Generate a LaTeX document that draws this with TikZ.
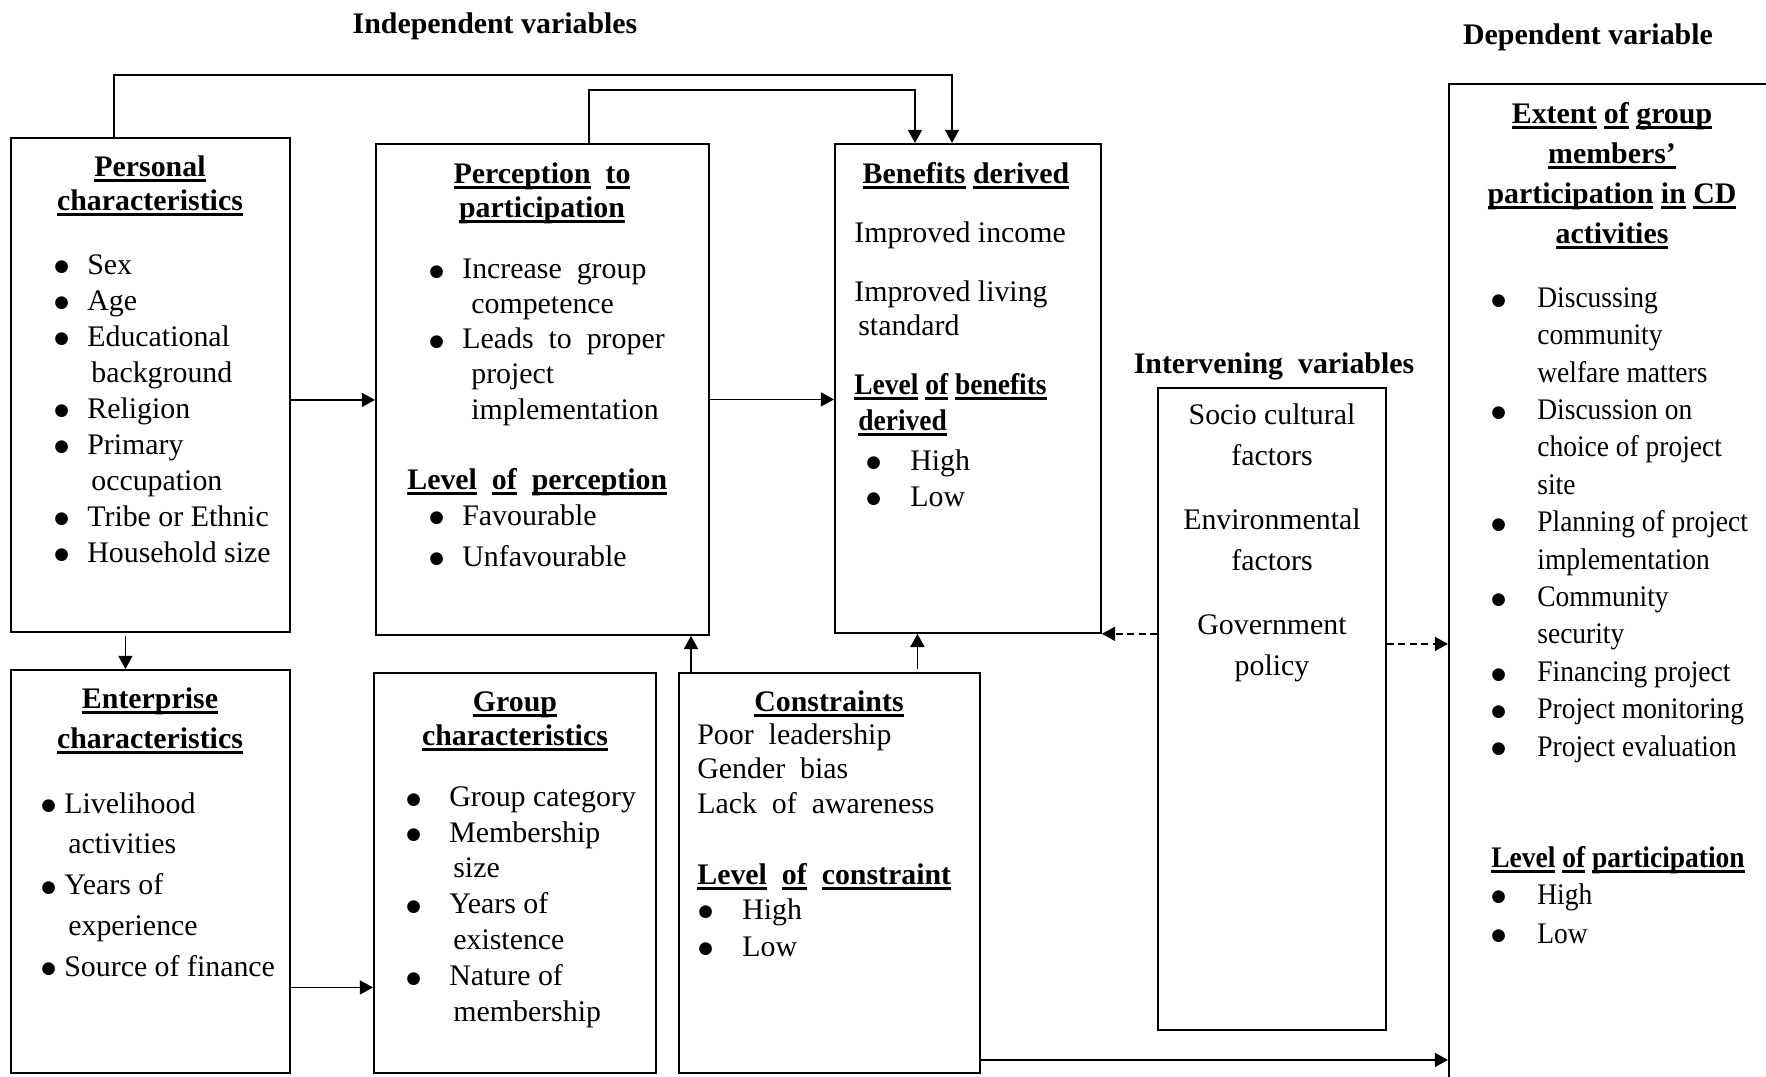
\documentclass[tikz,border=0pt]{standalone}
\usepackage{fontspec}
\setmainfont{Liberation Serif}
\newfontfamily\narrowrm[FakeStretch=0.92]{Liberation Serif}
\newfontfamily\dotfont{DejaVu Sans}
\usetikzlibrary{arrows.meta,calc}

\newlength{\pxu}\setlength{\pxu}{0.02cm}
\newcommand{\ulw}[1]{\setbox0=\hbox{#1}\rlap{\rule[-6\pxu]{\wd0}{3.4\pxu}}\box0{}}
\newcommand{\blt}[2][32]{\makebox[#1\pxu][l]{\hspace*{-1\pxu}\raisebox{2.2\pxu}{\dotfont\fontsize{9.5}{10}\selectfont ●}}#2}
\newcommand{\fsz}[1]{\fontsize{17}{#1\pxu}\selectfont}

\begin{document}
\begin{tikzpicture}[x=0.02cm, y=-0.02cm,
    box/.style={draw, line width=1.1pt, anchor=north west, inner sep=0pt},
    txt/.style={anchor=base west, align=left, inner sep=0pt, font=\fsz{36}},
    head/.style={anchor=base, align=center, inner sep=0pt, font=\fsz{34}\bfseries},
    arr/.style={line width=0.9pt, -{Triangle[length=7.5pt,width=8pt]}}]
    \useasboundingbox (0,0) rectangle (1766,1076);
    \clip (0,0) rectangle (1766,1076);

    % Cajas
    \node[box, minimum width=5.58cm, minimum height=9.88cm] (pers) at (10,137) {};
    \node[box, minimum width=6.66cm, minimum height=9.82cm] (perc) at (375,143) {};
    \node[box, minimum width=5.32cm, minimum height=9.78cm] (ben) at (834,143) {};
    \node[box, minimum width=4.56cm, minimum height=12.84cm] (int) at (1157,387) {};
    \node[box, minimum width=6.84cm, minimum height=20.6cm] (dep) at (1448,83) {};
    \node[box, minimum width=5.58cm, minimum height=8.06cm] (ent) at (10,669) {};
    \node[box, minimum width=5.64cm, minimum height=8cm] (grp) at (373,672) {};
    \node[box, minimum width=6.02cm, minimum height=8cm] (con) at (678,672) {};

    % Titulos
    \node[head] (indep) at (495,33) {Independent variables};
    \node[head] (depv) at (1588,44) {Dependent variable};
    \node[head] (intv) at (1274,373) {Intervening\ \ variables};

    % Personal characteristics (nodos de varias lineas: base = ultima linea)
    \node[head] (persh) at (150,210) {\ulw{Personal}\\\ulw{characteristics}};
    \node[txt] (persl) at (55,562) {\blt{Sex}\\\blt{Age}\\\blt{Educational}\\\hspace*{36\pxu}background\\\blt{Religion}\\\blt{Primary}\\\hspace*{36\pxu}occupation\\\blt{Tribe or Ethnic}\\\blt{Household size}};

    % Perception to participation
    \node[head] (perch) at (542,217) {\ulw{Perception}\ \ \ulw{to}\\\ulw{participation}};
    \node[txt, font=\fsz{35.2}] (percl) at (430,419) {\blt{Increase\ \ group}\\\hspace*{41\pxu}competence\\\blt{Leads\ \ to\ \ proper}\\\hspace*{41\pxu}project\\\hspace*{41\pxu}implementation};
    \node[txt, font=\fsz{36}\bfseries] (percv) at (407,489) {\ulw{Level}\ \ \ulw{of}\ \ \ulw{perception}};
    \node[txt, font=\fsz{41}] (percb) at (430,566) {\blt{Favourable}\\\blt{Unfavourable}};

    % Benefits derived
    \node[head] (benh) at (966,183) {\ulw{Benefits} \ulw{derived}};
    \node[txt] (beni) at (854,242) {Improved income};
    \node[txt, font=\fsz{34}] (benl) at (854,335) {Improved living\\\hspace*{4\pxu}standard};
    \node[txt, font=\fsz{36}\narrowrm\bfseries] (benv) at (854,430) {\ulw{Level} \ulw{of} \ulw{benefits}\\\hspace*{4\pxu}\ulw{derived}};
    \node[txt] (benb) at (867,506) {\blt[43]{High}\\\blt[43]{Low}};

    % Intervening variables
    \node[head, font=\fsz{40.5}] (intl) at (1272,675) {Socio cultural\\factors\\[24\pxu]Environmental\\factors\\[24\pxu]Government\\policy};

    % Dependent variable
    \node[head, font=\fsz{40}\bfseries] (deph) at (1612,243) {\ulw{Extent} \ulw{of} \ulw{group}\\\ulw{members’}\\\ulw{participation} \ulw{in} \ulw{CD}\\\ulw{activities}};
    \node[txt, font=\fsz{37.4}\narrowrm] (depl) at (1492,756) {\blt[45]{Discussing}\\\hspace*{45\pxu}community\\\hspace*{45\pxu}welfare matters\\\blt[45]{Discussion on}\\\hspace*{45\pxu}choice of project\\\hspace*{45\pxu}site\\\blt[45]{Planning of project}\\\hspace*{45\pxu}implementation\\\blt[45]{Community}\\\hspace*{45\pxu}security\\\blt[45]{Financing project}\\\blt[45]{Project monitoring}\\\blt[45]{Project evaluation}};
    \node[txt, font=\fsz{36}\narrowrm\bfseries] (deplv) at (1491,867) {\ulw{Level} \ulw{of} \ulw{participation}};
    \node[txt, font=\fsz{39}\narrowrm] (depb) at (1492,943) {\blt[45]{High}\\\blt[45]{Low}};

    % Enterprise characteristics
    \node[head, font=\fsz{40}\bfseries] (enth) at (150,748) {\ulw{Enterprise}\\\ulw{characteristics}};
    \node[txt, font=\fsz{40.75}] (entl) at (42,976) {\blt[22]{Livelihood}\\\hspace*{26\pxu}activities\\\blt[22]{Years of}\\\hspace*{26\pxu}experience\\\blt[22]{Source of finance}};

    % Group characteristics
    \node[head] (grph) at (515,745) {\ulw{Group}\\\ulw{characteristics}};
    \node[txt, font=\fsz{35.8}] (grpl) at (407,1021) {\blt[42]{Group category}\\\blt[42]{Membership}\\\hspace*{46\pxu}size\\\blt[42]{Years of}\\\hspace*{46\pxu}existence\\\blt[42]{Nature of}\\\hspace*{46\pxu}membership};

    % Constraints
    \node[head] (conh) at (829,711) {\ulw{Constraints}};
    \node[txt, font=\fsz{34.5}] (conl) at (697,813) {Poor\ \ leadership\\Gender\ \ bias\\Lack\ \ of\ \ awareness};
    \node[txt, font=\fsz{36}\bfseries] (conv) at (697,884) {\ulw{Level}\ \ \ulw{of}\ \ \ulw{constraint}};
    \node[txt, font=\fsz{37}] (conb) at (699,956) {\blt[43]{High}\\\blt[43]{Low}};

    % Puntos de salida
    \coordinate (p1) at ($(pers.east)+(0,15)$);
    \coordinate (p2) at ($(perc.east)+(0,10)$);
    \coordinate (p3) at ($(pers.south)+(-25,3)$);
    \coordinate (p4) at ($(ent.east)+(0,116)$);
    \coordinate (p5) at ($(con.north west)+(13,0)$);
    \coordinate (p6) at ($(con.north)+(88,-3)$);
    \coordinate (p7) at ($(con.east)+(0,187)$);
    \coordinate (p8) at ($(int.east)+(0,-65)$);

    % Flechas
    \draw[arr] ($(pers.north west)+(104,0)$) -- ++(0,-62) -| ($(ben.north west)+(118,0)$);
    \draw[arr] ($(perc.north west)+(214,0)$) -- ++(0,-53) -| ($(ben.north west)+(81,0)$);
    \draw[arr] (p1) -- (p1 -| perc.west);
    \draw[arr] (p2) -- (p2 -| ben.west);
    \draw[arr] (p3) -- (p3 |- ent.north);
    \draw[arr] (p4) -- (p4 -| grp.west);
    \draw[arr] (p5) -- (p5 |- perc.south);
    \draw[arr] (p6) -- (p6 |- ben.south);
    \draw[arr] (p7) -- (p7 -| dep.west);
    \draw[arr, dash pattern=on 4pt off 2.5pt] (int.west |- ben.south east) -- (ben.south east);
    \draw[arr, dash pattern=on 4pt off 2.5pt] (p8) -- (p8 -| dep.west);
\end{tikzpicture}
\end{document}
